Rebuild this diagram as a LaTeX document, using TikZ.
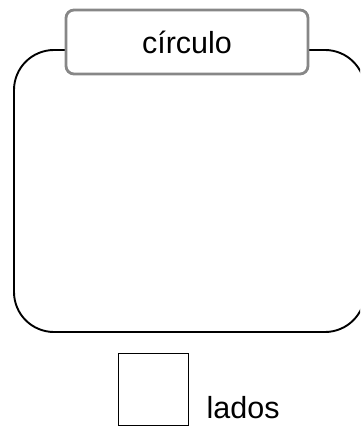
\documentclass[tikz,border=0pt]{standalone}
\usepackage{fontspec}
\setmainfont{Liberation Sans}
\begin{document}
\begin{tikzpicture}[x=1pt,y=-1pt,
  bigbox/.style={draw=black,line width=1.9pt,rounded corners=40pt},
  titlebox/.style={draw=black!47,line width=2.8pt,fill=white,rounded corners=8pt,
    minimum width=242pt,minimum height=64pt,inner sep=0pt,font=\fontsize{30.5}{36}\selectfont},
  sqbox/.style={draw=black,line width=1.6pt,minimum width=70pt,minimum height=72pt,inner sep=0pt},
  lbl/.style={font=\fontsize{30.5}{36}\selectfont,inner sep=0pt,anchor=base west}]
\useasboundingbox (0,0) rectangle (360,427);
\begin{scope}
\clip (0,0) rectangle (360,427);
\draw[bigbox] (14,50) rectangle (365,332);
\end{scope}
\node[titlebox] (title) at (187,42) {círculo};
\node[sqbox] (sq) at (153.5,389.5) {};
\node[lbl] (lados) at (206.5,418) {lados};
\end{tikzpicture}
\end{document}
